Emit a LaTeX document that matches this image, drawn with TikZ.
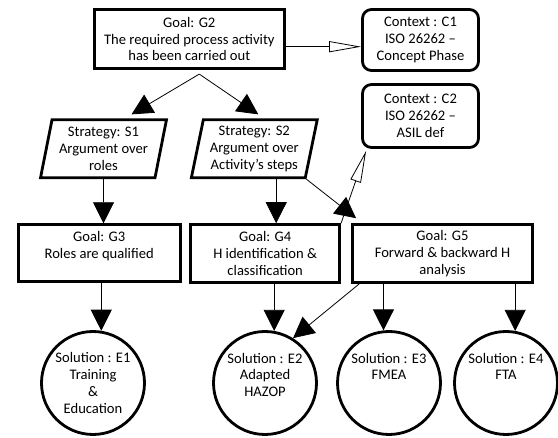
\documentclass[tikz,border=0pt]{standalone}
\usepackage{fontspec}
\setmainfont{Carlito}
\usetikzlibrary{shapes.geometric,arrows.meta}
\begin{document}
\begin{tikzpicture}[x=1pt,y=-1pt,font=\fontsize{14.6}{16.7}\selectfont]
			\tikzstyle{goal} = [draw, rectangle, line width=2.8pt, inner sep=0pt, align=center]
			\tikzstyle{context} = [goal, rounded corners=9pt]
			\tikzstyle{strategy} = [draw, trapezium, trapezium left angle=77, trapezium right angle=103, trapezium stretches=true, line width=2.8pt, inner sep=0pt, align=center, minimum width=126pt, minimum height=58pt]
			\tikzstyle{solution} = [draw, circle, line width=2.8pt, minimum size=103pt, inner sep=0pt, align=center]
			\tikzstyle{support} = [-{Triangle[length=21pt,width=21pt]}, line width=0.8pt]
			\tikzstyle{incontext} = [-{Triangle[open,length=32pt,width=11pt]}, line width=0.8pt]
			\useasboundingbox (0,0) rectangle (558,438);
			\node[goal, minimum width=190pt, minimum height=59pt] (G2) at (189.3,39.2) {Goal: G2\\The required process activity\\has been carried out};
			\node[context, minimum width=116pt, minimum height=61pt] (C1) at (420.5,40) {Context : C1\\ISO 26262 --\\Concept Phase};
			\node[context, minimum width=116pt, minimum height=63pt] (C2) at (420.5,116) {Context : C2\\ISO 26262 --\\ASIL def};
			\draw[incontext] ([yshift=-7.5pt]G2.east) -- ([yshift=-7.5pt]G2.east -| C1.west);
			\node[strategy] (S1) at (103.5,148.8) {Strategy: S1\\Argument over\\roles};
			\node[strategy] (S2) at (254.3,148.8) {Strategy: S2\\Argument over\\Activity’s steps};
			\coordinate (split) at ([xshift=10pt,yshift=-4pt]G2.south);
			\draw[support] (split) -- ([xshift=28pt,yshift=4pt]S1.north);
			\draw[support] (split) -- ([xshift=4pt,yshift=4pt]S2.north);
			\node[goal, minimum width=162pt, minimum height=57pt] (G3) at (99.2,253.2) {Goal: G3\\Roles are qualified\\~};
			\node[goal, minimum width=149pt, minimum height=58pt] (G4) at (265.2,253.6) {Goal: G4\\H identification \&\\classification};
			\node[goal, minimum width=180pt, minimum height=58pt] (G5) at (442.5,253.6) {Goal: G5\\Forward \& backward H\\analysis};
			\draw[support] (S1.south) -- (S1.south |- G3.north);
			\draw[support] ([xshift=11pt]G4.north |- S2.south) -- ([xshift=11pt]G4.north);
			\draw[support] (S2.bottom right corner) -- ([xshift=5pt,yshift=5pt]G5.north west);
			\draw[incontext] (G4.north east) -- ([xshift=5pt,yshift=-2pt]C2.south west);
			\node[solution] (E1) at (93,383) {Solution : E1\\Training\\\&\\Education};
			\node[solution] (E2) at (265,383) {Solution : E2\\Adapted\\HAZOP\\~};
			\node[solution] (E3) at (389,383) {Solution : E3\\FMEA\\~\\~};
			\node[solution] (E4) at (506,383) {Solution : E4\\FTA\\~\\~};
			\draw[support] (E1.81 |- G3.south) -- (E1.81);
			\draw[support] (E2.80 |- G4.south) -- (E2.80);
			\draw[support] ([xshift=8pt]G5.south west) -- (E2.58);
			\draw[support] (E3.96 |- G5.south) -- (E3.96);
			\draw[support] (E4.80 |- G5.south) -- (E4.80);
\end{tikzpicture}
\end{document}
